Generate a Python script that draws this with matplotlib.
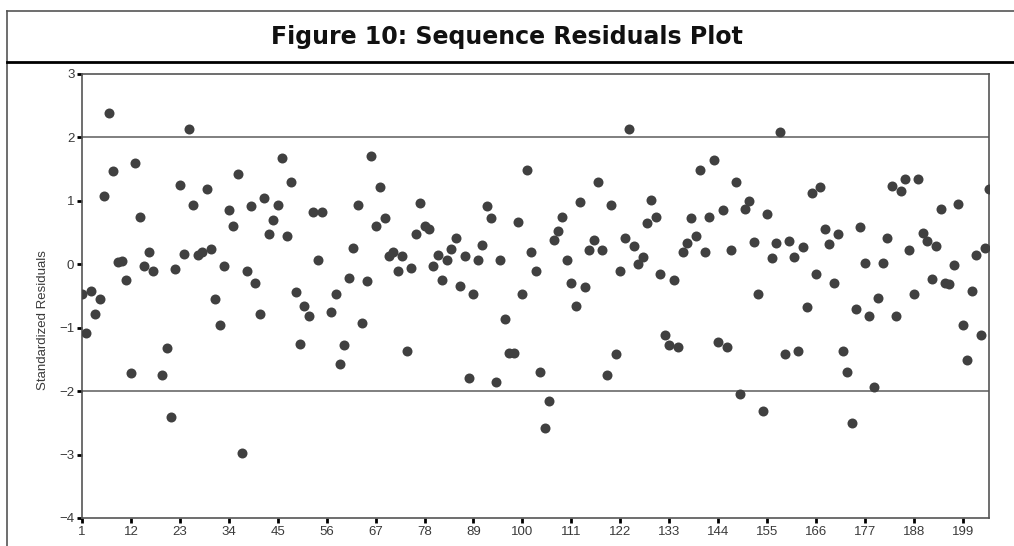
import matplotlib
matplotlib.use("Agg")
import matplotlib.pyplot as plt
from matplotlib.lines import Line2D
import numpy as np

# standardized residuals, case 1..205 (nan = missing case)
residuals = [
    -0.47, -1.09, -0.42, -0.78, -0.55, 1.08, 2.39, 1.47, 0.03, 0.05,
    -0.24, -1.72, 1.60, 0.75, -0.02, 0.19, -0.10, np.nan, -1.74, -1.32,
    -2.40, -0.08, 1.25, 0.16, 2.13, 0.93, 0.15, 0.19, 1.18, 0.24,
    -0.55, -0.95, -0.03, 0.85, 0.60, 1.43, -2.97, -0.11, 0.92, -0.30,
    -0.78, 1.05, 0.48, 0.70, 0.94, 1.67, 0.44, 1.29, -0.44, -1.25,
    -0.65, -0.82, 0.83, 0.06, 0.83, np.nan, -0.76, -0.47, -1.57, -1.28,
    -0.22, 0.26, 0.94, -0.93, -0.26, 1.70, 0.60, 1.22, 0.73, 0.13,
    0.19, -0.10, 0.13, -1.37, -0.06, 0.48, 0.97, 0.61, 0.56, -0.02,
    0.15, -0.25, 0.07, 0.24, 0.42, -0.34, 0.13, -1.79, -0.47, 0.06,
    0.31, 0.92, 0.73, -1.85, 0.06, -0.86, -1.40, -1.40, 0.67, -0.47,
    1.48, 0.19, -0.11, -1.70, -2.58, -2.16, 0.39, 0.53, 0.75, 0.06,
    -0.30, -0.66, 0.98, -0.36, 0.23, 0.38, 1.30, 0.23, -1.74, 0.94,
    -1.41, -0.10, 0.41, 2.14, 0.29, 0.01, 0.12, 0.65, 1.01, 0.75,
    -0.15, -1.11, -1.27, -0.25, -1.30, 0.19, 0.34, 0.73, 0.45, 1.48,
    0.19, 0.75, 1.64, -1.22, 0.85, -1.30, 0.22, 1.30, -2.05, 0.87,
    1.00, 0.35, -0.47, -2.31, 0.80, 0.10, 0.33, 2.09, -1.41, 0.37,
    0.12, -1.37, 0.28, -0.67, 1.13, -0.15, 1.22, 0.56, 0.32, -0.30,
    0.48, -1.37, -1.70, -2.50, -0.71, 0.58, 0.02, -0.82, -1.94, -0.53,
    0.02, 0.41, 1.23, -0.81, 1.16, 1.34, 0.22, -0.47, 1.34, 0.50,
    0.36, -0.23, 0.29, 0.87, -0.30, -0.31, -0.01, 0.95, -0.95, -1.51,
    -0.42, 0.14, -1.11, 0.26, 1.18,
]
cases = np.arange(1, len(residuals) + 1)
x_ticks = list(range(1, 200, 11))
y_ticks = [-4, -3, -2, -1, 0, 1, 2, 3]
ref_lines = [2, -2]

title = "Figure 10: Sequence Residuals Plot"
ylabel = "Standardized Residuals"

plt.rcParams['font.family'] = ['Liberation Sans', 'DejaVu Sans']

W, H = 1014, 546
fig = plt.figure(figsize=(W / 100, H / 100), dpi=100)
fig.patch.set_facecolor('white')

# frame around the whole figure and the title separator
fig.add_artist(Line2D([7 / W, 7 / W], [0, 1 - 11 / H], color='#555555', lw=1.2))
fig.add_artist(Line2D([7 / W, 1], [1 - 11 / H, 1 - 11 / H], color='#555555', lw=1.2))
fig.add_artist(Line2D([7 / W, 1], [1 - 61.5 / H, 1 - 61.5 / H], color='black', lw=2.0))
fig.text(507 / W, 1 - 37 / H, title, ha='center', va='center',
         fontsize=17, fontweight='bold', family='DejaVu Sans', color='#111111')

left, right, top, bottom = 82, 989.5, 74, 518
ax = fig.add_axes([left / W, 1 - bottom / H, (right - left) / W, (bottom - top) / H])

for yl in ref_lines:
    ax.axhline(yl, color='#6a6a6a', lw=1.2, zorder=1)

ax.plot(cases, residuals, 'o', color='#404040', markersize=7.2, markeredgewidth=0, zorder=3)

ax.set_xlim(1, len(residuals))
ax.set_ylim(-4, 3)
ax.set_xticks(x_ticks)
ax.set_yticks(y_ticks)
ax.tick_params(axis='both', length=3.5, width=2, color='black', labelsize=9.5,
               labelcolor='#3a3a3a', pad=2)
for s in ax.spines.values():
    s.set_color('#555555')
    s.set_linewidth(1.2)

fig.text(43 / W, 1 - 320 / H, ylabel, rotation=90, ha='center', va='center',
         fontsize=9.5, color='#3a3a3a')

fig.savefig("out.png", dpi=100)
